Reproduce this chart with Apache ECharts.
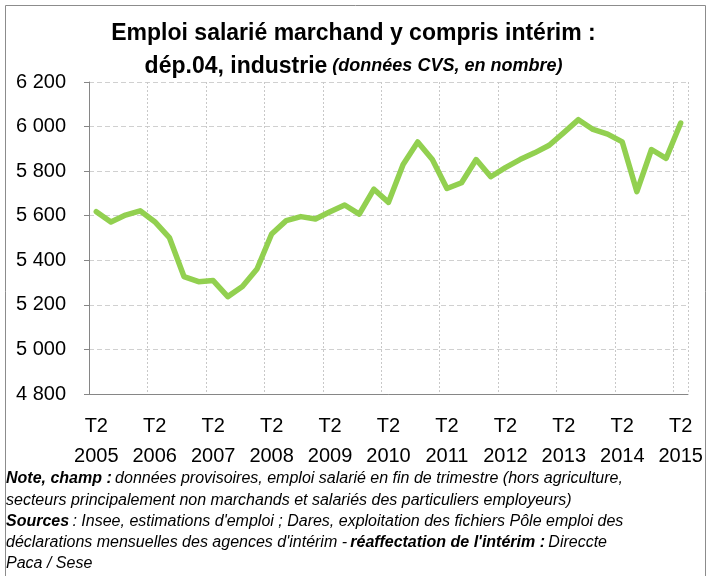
<!DOCTYPE html>
<html>
<head>
<meta charset="utf-8">
<script src="https://cdn.jsdelivr.net/npm/echarts@6/dist/echarts.min.js"></script>
<style>
html,body{margin:0;padding:0;background:#fff;}
#chart{width:707px;height:576px;}
</style>
</head>
<body>
<div id="chart"></div>
<script>
const categories = [
  "T2 2005","T3 2005","T4 2005","T1 2006","T2 2006","T3 2006","T4 2006","T1 2007",
  "T2 2007","T3 2007","T4 2007","T1 2008","T2 2008","T3 2008","T4 2008","T1 2009",
  "T2 2009","T3 2009","T4 2009","T1 2010","T2 2010","T3 2010","T4 2010","T1 2011",
  "T2 2011","T3 2011","T4 2011","T1 2012","T2 2012","T3 2012","T4 2012","T1 2013",
  "T2 2013","T3 2013","T4 2013","T1 2014","T2 2014","T3 2014","T4 2014","T1 2015",
  "T2 2015"
];
const emploi = [
  5618, 5572, 5603, 5622, 5573, 5502, 5327, 5304,
  5309, 5237, 5282, 5361, 5518, 5578, 5596, 5585,
  5618, 5648, 5607, 5719, 5660, 5830, 5931, 5852,
  5722, 5748, 5852, 5775, 5816, 5852, 5882, 5916,
  5973, 6031, 5987, 5966, 5931, 5708, 5897, 5857,
  6016
];
const yMin = 4800, yMax = 6200, yStep = 200;

const FONT = "Liberation Sans";
const chart = echarts.init(document.getElementById('chart'), null, {renderer:'canvas'});
chart.setOption({
  animation:false,
  backgroundColor:'#fff',
  title:{
    left:'center', top:12,
    text:'{a|Emploi salarié marchand y compris intérim :}\n{a|dép.04, industrie} {b|(données CVS, en nombre)}',
    textStyle:{
      lineHeight:33,
      rich:{
        a:{fontFamily:FONT,fontSize:23,fontWeight:'bold',color:'#000',lineHeight:33},
        b:{fontFamily:FONT,fontSize:18,fontStyle:'italic',color:'#000',lineHeight:33}
      }
    }
  },
  grid:{left:89,right:19,top:82,bottom:182,containLabel:false},
  xAxis:{
    type:'category',
    data:categories,
    boundaryGap:true,
    axisLine:{lineStyle:{color:'#868686',width:1}},
    axisTick:{interval:3,length:5,lineStyle:{color:'#868686'}},
    axisLabel:{interval:3,fontFamily:FONT,fontSize:20,color:'#000',lineHeight:30,margin:17,
      formatter:v=>v.replace(' ','\n')},
    splitLine:{show:true,interval:3,lineStyle:{color:'#c8c8c8',type:[2,2],width:1}}
  },
  yAxis:{
    type:'value',min:yMin,max:yMax,interval:yStep,
    axisLine:{show:true,lineStyle:{color:'#868686',width:1}},
    axisTick:{show:true,length:5,lineStyle:{color:'#868686'}},
    axisLabel:{fontFamily:FONT,fontSize:20,color:'#000',margin:23,
      formatter:v=>{const s=String(v);return s.length>3?s.slice(0,s.length-3)+' '+s.slice(-3):s;}},
    splitLine:{show:true,lineStyle:{color:'#d0d0d0',type:[5,3],width:1}}
  },
  series:[{
    type:'line',
    data:emploi,
    symbol:'none',
    lineStyle:{color:'#92D050',width:5.5,join:'round',cap:'round'},
    z:3
  }],
  graphic:[
    {type:'rect',left:3,top:3,shape:{width:700,height:580},
     style:{fill:null,stroke:'#8c8c8c',lineWidth:1},silent:true},
    {type:'text',left:6,top:471,
     style:{
       text:'{b|Note, champ :} {i|données provisoires, emploi salarié en fin de trimestre (hors agriculture,}\n'+
            '{i|secteurs principalement non marchands et salariés des particuliers employeurs)}\n'+
            '{b|Sources} {i|: Insee, estimations d\'emploi ; Dares, exploitation des fichiers Pôle emploi des}\n'+
            '{i|déclarations mensuelles des agences d\'intérim -} {b|réaffectation de l\'intérim :} {i|Direccte}\n'+
            '{i|Paca / Sese}',
       rich:{
         b:{fontFamily:FONT,fontSize:16,fontStyle:'italic',fontWeight:'bold',fill:'#000',lineHeight:21.2},
         i:{fontFamily:FONT,fontSize:16,fontStyle:'italic',fill:'#000',lineHeight:21.2}
       }
     }}
  ]
});
</script>
</body>
</html>
